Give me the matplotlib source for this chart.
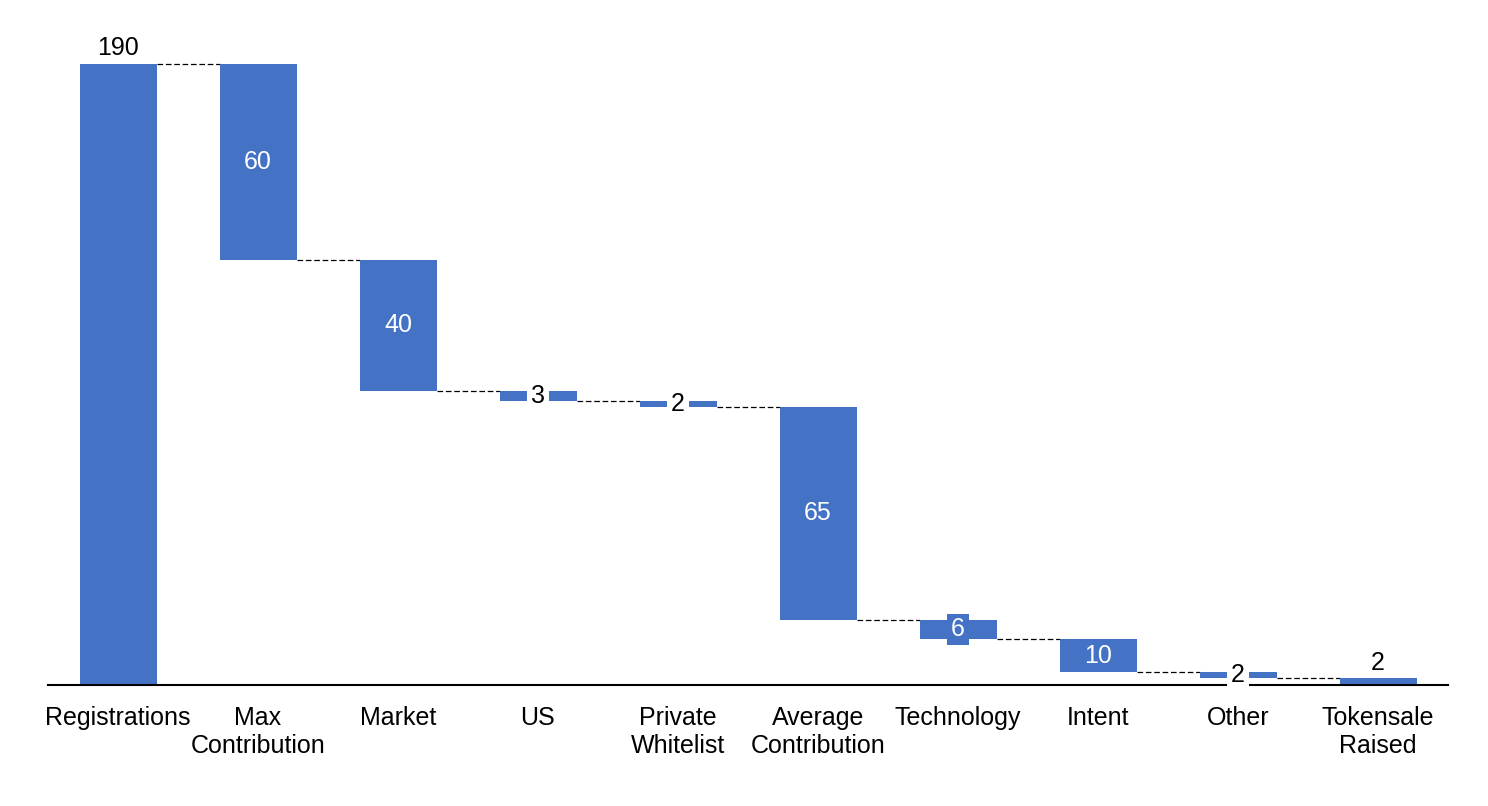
import matplotlib
matplotlib.use("Agg")
import matplotlib.pyplot as plt

categories = ["Registrations", "Max\nContribution", "Market", "US", "Private\nWhitelist",
              "Average\nContribution", "Technology", "Intent", "Other", "Tokensale\nRaised"]
values = [190, -60, -40, -3, -2, -65, -6, -10, -2, 2]
is_total = [True, False, False, False, False, False, False, False, False, True]

BLUE = "#4472C4"
FONT = "Liberation Sans"
plt.rcParams["font.family"] = [FONT, "DejaVu Sans"]
FS = 18

fig = plt.figure(figsize=(14.88, 8.06), dpi=100)
ax = fig.add_axes([48/1488, (806-685)/806, 1400/1488, (685-31)/806])
ax.set_xlim(-0.5, len(categories) - 0.5)
ax.set_ylim(0, 200)

width = 0.55
running = 0
bottoms, tops = [], []
for i, (v, tot) in enumerate(zip(values, is_total)):
    if tot:
        b, t = 0, v
        running = v
    else:
        t = running
        running = running + v
        b = running
    bottoms.append(b)
    tops.append(t)
    ax.bar(i, t - b, bottom=b, width=width, color=BLUE, zorder=2)

# connectors
for i in range(len(values) - 1):
    level = bottoms[i] if not is_total[i] else tops[i]
    ax.plot([i + width/2, i + 1 - width/2], [level, level], color="black",
            lw=0.9, ls=(0, (4.5, 2.2)), zorder=1)

# labels
for i, v in enumerate(values):
    a = abs(v)
    h = tops[i] - bottoms[i]
    mid = (tops[i] + bottoms[i]) / 2
    if i == 0 or i == len(values) - 1:
        ax.text(i, tops[i] + 1.2, str(a), ha="center", va="bottom", fontsize=FS, color="black")
    elif h >= 8:
        ax.text(i, mid, str(a), ha="center", va="center", fontsize=FS, color="white", zorder=4)
    elif h >= 5:
        ax.text(i, mid, str(a), ha="center", va="center", fontsize=FS, color="white", zorder=4,
                bbox=dict(boxstyle="square,pad=0.15", fc=BLUE, ec="none"))
    else:
        ax.text(i, mid, str(a), ha="center", va="center", fontsize=FS, color="black", zorder=4,
                bbox=dict(boxstyle="square,pad=0.15", fc="white", ec="none"))

for s in ["top", "right", "left"]:
    ax.spines[s].set_visible(False)
ax.spines["bottom"].set_linewidth(1.5)
ax.spines["bottom"].set_zorder(3)
ax.set_yticks([])
ax.set_xticks(range(len(categories)))
ax.set_xticklabels(categories, fontsize=FS, linespacing=1.2)
ax.tick_params(axis="x", length=0, pad=15)

fig.savefig("out.png", dpi=100)
